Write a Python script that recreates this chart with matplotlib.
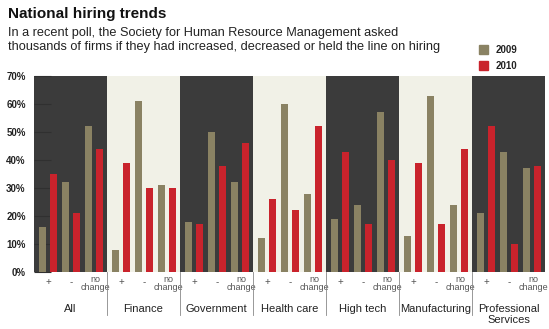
import numpy as np
import matplotlib.pyplot as plt
from matplotlib.patches import Rectangle
from matplotlib.lines import Line2D

plt.rcParams['font.family'] = ['Liberation Sans', 'DejaVu Sans']

# ------------------Data------------------
sectors = ["All", "Finance", "Government", "Health care", "High tech",
           "Manufacturing", "Professional\nServices"]
answers = ["+", "-", "no\nchange"]
# values per sector: [+, -, no change]
vals_2009 = [[16, 32, 52], [8, 61, 31], [18, 50, 32], [12, 60, 28],
             [19, 24, 57], [13, 63, 24], [21, 43, 37]]
vals_2010 = [[35, 21, 44], [39, 30, 30], [17, 38, 46], [26, 22, 52],
             [43, 17, 40], [39, 17, 44], [52, 10, 38]]
yticks = [0, 10, 20, 30, 40, 50, 60, 70]

c09 = '#8a8263'
c10 = '#c9232c'
dark_bg = '#3b3b3b'
light_bg = '#f1f1e7'

W, H = 549, 329
fig = plt.figure(figsize=(W / 100, H / 100), dpi=100)
ax = fig.add_axes([34 / W, 1 - 272 / H, (545 - 34) / W, (272 - 76) / H])

panel_w = 6.4
n = len(sectors)
for s in range(n):
    x0 = s * panel_w
    ax.add_patch(Rectangle((x0, 0), panel_w, 70,
                           color=dark_bg if s % 2 == 0 else light_bg, zorder=0, lw=0))
    for a in range(3):
        xa = x0 + 0.75 + 2 * a
        ax.bar(xa, vals_2009[s][a], width=0.62, color=c09, zorder=2)
        ax.bar(xa + 1, vals_2010[s][a], width=0.62, color=c10, zorder=2)
        lbl = answers[a]
        if "\n" in lbl:
            ax.text(xa + 0.65, -0.9, lbl, ha='center', va='top', fontsize=6.5,
                    color='#555555', linespacing=0.95)
        else:
            ax.text(xa + 0.5, -1.8, lbl, ha='center', va='top', fontsize=7,
                    color='#555555')
    ax.text(x0 + panel_w / 2, -11.5, sectors[s], ha='center', va='top',
            fontsize=8, color='#222222', linespacing=1.1)
    if s > 0:
        ax.add_line(Line2D([x0, x0], [0, -15.5], color='#888888', lw=0.6,
                           clip_on=False, zorder=3))

ax.set_xlim(0, n * panel_w)
ax.set_ylim(0, 70)
ax.set_yticks(yticks)
ax.set_yticklabels([f"{t}%" for t in yticks], fontsize=7, fontweight='bold',
                   color='#222222')
ax.tick_params(axis='y', direction='in', length=12, width=0.8, color='#303030', pad=6)
ax.set_xticks([])
for sp in ax.spines.values():
    sp.set_visible(False)

# ------------------Titles------------------
fig.text(8 / W, 1 - 14 / H, "National hiring trends", fontsize=11,
         fontweight='bold', va='center', ha='left', color='#111111')
fig.text(8 / W, 1 - 33 / H,
         "In a recent poll, the Society for Human Resource Management asked",
         fontsize=9.2, va='center', ha='left', color='#222222')
fig.text(8 / W, 1 - 47 / H,
         "thousands of firms if they had increased, decreased or held the line on hiring",
         fontsize=9.2, va='center', ha='left', color='#222222')

# ------------------Legend------------------
for i, (c, lab) in enumerate([(c09, "2009"), (c10, "2010")]):
    yc = 50 + i * 16
    fig.patches.append(Rectangle((479 / W, 1 - (yc + 4) / H), 9 / W, 9 / H,
                                 color=c, transform=fig.transFigure))
    fig.text(496 / W, 1 - yc / H, lab, fontsize=7, fontweight='bold',
             va='center', ha='left', color='#222222')

fig.savefig("out.png", dpi=100)
